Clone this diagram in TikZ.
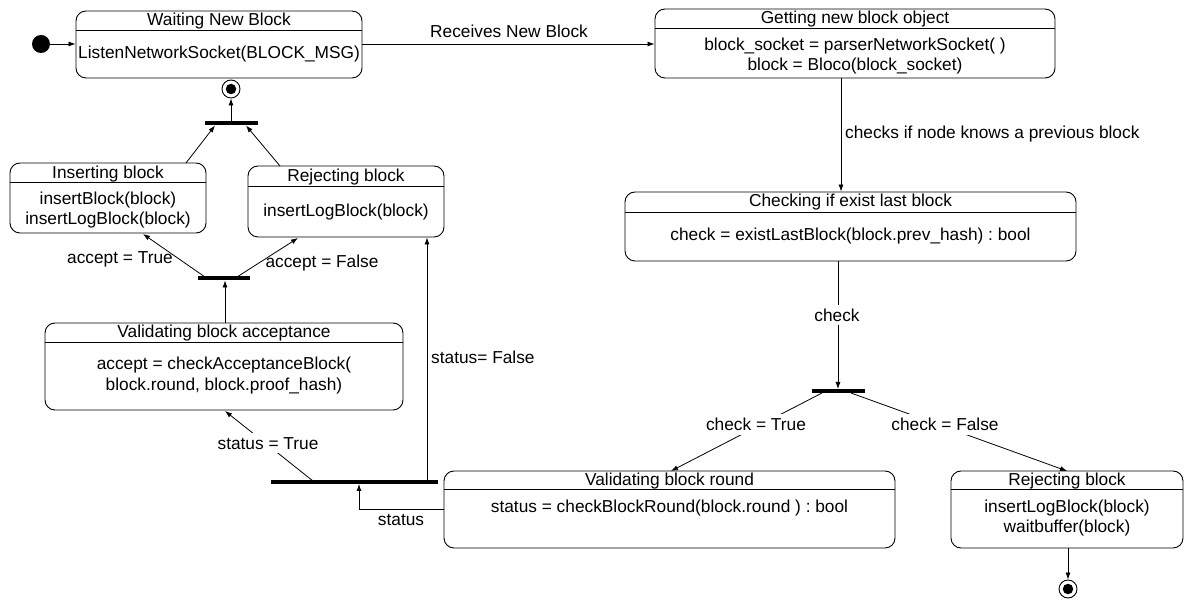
\documentclass[tikz,border=0pt]{standalone}
\usepackage{fontspec}
\setmainfont{Liberation Sans}
\usetikzlibrary{arrows.meta}
\frenchspacing

\tikzset{
  statebox/.style={draw, rounded corners=10pt, line width=0.9pt, inner sep=0pt},
  sep/.style={line width=0.9pt},
  txt/.style={font=\fontsize{17.3}{20}\selectfont, inner sep=0pt, text height=12.4pt, text depth=0pt},
  gaplbl/.style={txt, fill=white, inner xsep=2pt, inner ysep=4pt},
  syncbar/.style={line width=3.6pt},
  conn/.style={line width=0.8pt},
  arr/.style={conn, -{Latex[length=7pt,width=5pt]}},
}

% #1 name, #2 x1, #3 y1, #4 x2, #5 y2, #6 separator y, #7 title, #8 title y
\newcommand\umlstate[8]{%
  \node[statebox, minimum width={#4-#2}, minimum height={#5-#3}] (#1) at ({(#2+#4)/2},{(#3+#5)/2}) {};
  \draw[sep] (#2,#6) -- (#4,#6);
  \node[txt] (#1-t) at ({(#2+#4)/2},#8) {#7};
}

\begin{document}
\begin{tikzpicture}[x=1pt, y=-1pt]
\useasboundingbox (0,0) rectangle (1184,601);

% states
\umlstate{wait}{76}{11}{362}{78}{30}{Waiting New Block}{19.5}
\node[txt] (wait-b) at (219,52.5) {ListenNetworkSocket(BLOCK\_MSG)};

\umlstate{getb}{655}{9}{1055}{78}{28}{Getting new block object}{17.5}
\node[txt] (getb-b1) at (855,44) {block\_socket = parserNetworkSocket( )};
\node[txt] (getb-b2) at (855,64) {block = Bloco(block\_socket)};

\umlstate{chk}{625}{192}{1076}{261}{212}{Checking if exist last block}{200}
\node[txt] (chk-b) at (850.5,234) {check = existLastBlock(block.prev\_hash) : bool};

\umlstate{ins}{10}{163}{206}{233}{182.5}{Inserting block}{172}
\node[txt] (ins-b1) at (108,198.4) {insertBlock(block)};
\node[txt] (ins-b2) at (108,218) {insertLogBlock(block)};

\umlstate{rejl}{248}{166}{444}{237}{186}{Rejecting block}{175}
\node[txt] (rejl-b) at (346,210) {insertLogBlock(block)};

\umlstate{vacc}{45}{323}{403}{410}{342}{Validating block acceptance}{331}
\node[txt] (vacc-b1) at (224,363) {accept = checkAcceptanceBlock(};
\node[txt] (vacc-b2) at (224,384) {block.round, block.proof\_hash)};

\umlstate{vrnd}{444}{471}{895}{548}{489}{Validating block round}{479.5}
\node[txt] (vrnd-b) at (669.5,506) {status = checkBlockRound(block.round ) : bool};

\umlstate{rejr}{951}{471}{1183}{548}{489}{Rejecting block}{479.5}
\node[txt] (rejr-b1) at (1067,506) {insertLogBlock(block)};
\node[txt] (rejr-b2) at (1067,526) {waitbuffer(block)};

% initial and final states
\node[circle, fill, minimum size=18pt, inner sep=0pt] (init) at (41,44) {};
\node[circle, draw, line width=0.9pt, minimum size=18pt, inner sep=0pt] (fin1) at (231,89) {};
\node[circle, fill, minimum size=10.5pt, inner sep=0pt] (fin1c) at (fin1) {};
\node[circle, draw, line width=0.9pt, minimum size=18pt, inner sep=0pt] (fin2) at (1068,589) {};
\node[circle, fill, minimum size=10.5pt, inner sep=0pt] (fin2c) at (fin2) {};

% synchronisation bars
\coordinate (b1l) at (205,123); \coordinate (b1r) at (258,123);
\coordinate (b2l) at (198,278); \coordinate (b2r) at (250,278);
\coordinate (b3l) at (271,482); \coordinate (b3r) at (438,482);
\coordinate (b4l) at (812,391); \coordinate (b4r) at (865,391);
\draw[syncbar] (b1l) -- (b1r);
\draw[syncbar] (b2l) -- (b2r);
\draw[syncbar] (b3l) -- (b3r);
\draw[syncbar] (b4l) -- (b4r);

% transitions
\draw[arr] (init) -- (wait.west |- init);
\draw[arr] (wait.east |- 0,44) -- (getb.west |- 0,44);
\node[txt] (l-recv) at (509,31) {Receives New Block};

\draw[arr] (getb.south -| 841,0) -- (chk.north -| 841,0);
\node[txt, anchor=west] (l-prev) at (845,132) {checks if node knows a previous block};

\coordinate (b4top) at (838,389);
\draw[arr] (chk.south -| b4top) -- (b4top);
\node[gaplbl] (l-chk) at (837,315) {check};

\coordinate (b4a) at (822,393);
\coordinate (b4b) at (851,393);
\draw[arr] (b4a) -- (671,471);
\node[gaplbl] (l-ct) at (756,424.5) {check = True};
\draw[arr] (b4b) -- (1067,471);
\node[gaplbl] (l-cf) at (945,424.5) {check = False};

\draw[arr] (rejr.south -| fin2) -- (fin2.north);

\coordinate (s-up) at (359,484);
\draw[arr] (vrnd.west |- 0,509) -- (359,509) -- (s-up);
\node[txt] (l-st) at (401,519) {status};

\coordinate (b3a) at (313,481);
\draw[arr] (b3a) -- (225,411);
\node[gaplbl] (l-stt) at (268,443) {status = True};

\coordinate (b3b) at (427,481);
\draw[arr] (b3b) -- (rejl.south -| b3b);
\node[txt, anchor=west] (l-stf) at (431,357) {status= False};

\draw[arr] (vacc.north -| 225,0) -- (225,280.5);

\coordinate (b2a) at (205,277);
\coordinate (b2b) at (237,277);
\draw[arr] (b2a) -- (143,234);
\node[txt] (l-at) at (120,257) {accept = True};
\draw[arr] (b2b) -- (298,238);
\node[txt] (l-af) at (322,261) {accept = False};

\draw[arr] (186,163) -- (215,125.5);
\draw[arr] (280,166) -- (246,125.5);
\draw[arr] (231,121) -- (fin1.south);

\end{tikzpicture}
\end{document}
